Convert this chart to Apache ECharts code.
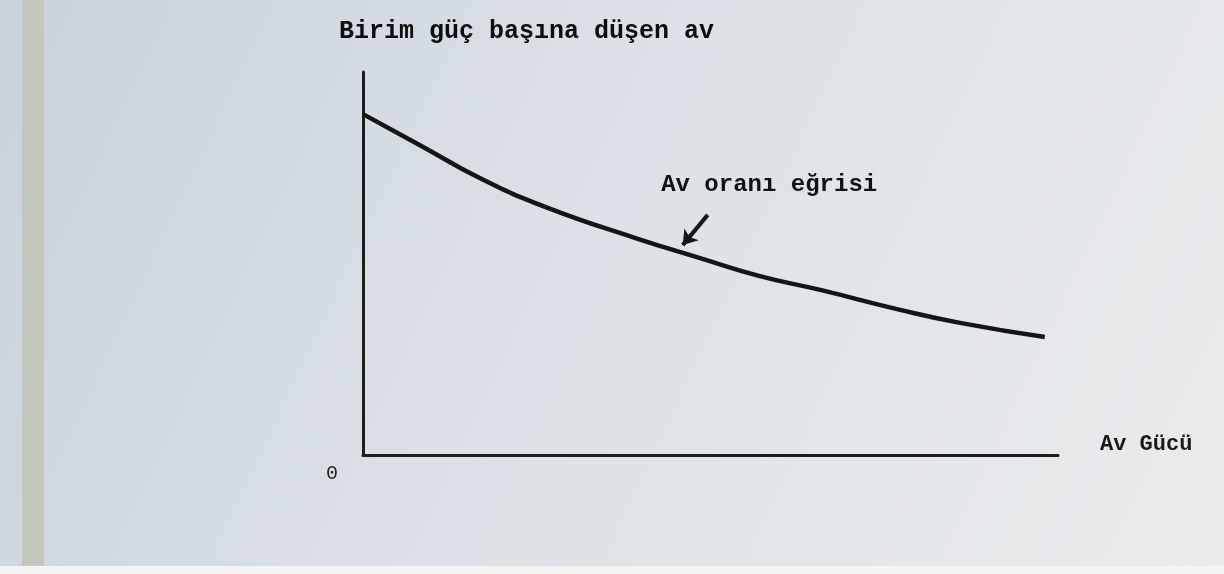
<!DOCTYPE html>
<html>
<head>
<meta charset="utf-8">
<title>Av oranı eğrisi</title>
<script src="https://cdn.jsdelivr.net/npm/echarts@6/dist/echarts.min.js"></script>
<style>
  html, body { margin: 0; padding: 0; }
  #chart { width: 1224px; height: 574px; }
</style>
</head>
<body>
<div id="chart"></div>
<script>
// Catch per unit of fishing effort against fishing effort (relative units)
const effort = [0, 8.2, 16.8, 26.2, 39.1, 48.5, 57.1, 65.8, 77.3, 85.9, 98.1];
const catchPerUnit = [89, 80.9, 72.3, 64.8, 56.7, 51.4, 46.7, 43.1, 37.9, 34.5, 30.8];

// Annotation arrow pointing at the curve (tail -> head, in data units)
const arrowTail = [49.6, 62.7];
const arrowHead = [46.0, 54.8];
const arrowLabel = [42.9, 70.5];

const curveName = 'Av oranı eğrisi';
const yTitle = 'Birim güç başına düşen av';
const xTitle = 'Av Gücü';
const originLabel = '0';

const typeFont = '"Liberation Mono", "DejaVu Sans Mono", monospace';

const chart = echarts.init(document.getElementById('chart'));

chart.setOption({
  backgroundColor: {
    type: 'linear', x: 0, y: 0, x2: 1, y2: 1,
    colorStops: [
      { offset: 0, color: '#c9d1da' },
      { offset: 0.45, color: '#dce1e7' },
      { offset: 1, color: '#eaebec' }
    ]
  },
  animation: false,
  graphic: [
    { type: 'rect', left: 22, top: 0, shape: { width: 22, height: 574 },
      style: { fill: '#c4c7bc' }, z: 0 },
    { type: 'rect', left: 0, top: 566, shape: { width: 1224, height: 8 },
      style: { fill: '#f4f4f4' }, z: 0 },
    { type: 'text', left: 326, top: 464,
      style: { text: originLabel, font: '20px ' + typeFont, fill: '#222' } }
  ],
  grid: { left: 363, right: 166, top: 72, bottom: 119 },
  xAxis: {
    type: 'value', min: 0, max: 100,
    name: xTitle, nameLocation: 'end', nameGap: 42,
    nameTextStyle: { fontFamily: typeFont, fontWeight: 'bold', fontSize: 22, color: '#1a1a1a',
      verticalAlign: 'bottom' },
    axisLine: { lineStyle: { color: '#1d1d1d', width: 3 } },
    axisTick: { show: false }, axisLabel: { show: false }, splitLine: { show: false }
  },
  yAxis: {
    type: 'value', min: 0, max: 100,
    name: yTitle, nameLocation: 'end', nameGap: 28,
    nameTextStyle: { fontFamily: typeFont, fontWeight: 'bold', fontSize: 25, color: '#0d0d0d',
      align: 'left', padding: [0, 0, 0, -24] },
    axisLine: { show: true, lineStyle: { color: '#1d1d1d', width: 3 } },
    axisTick: { show: false }, axisLabel: { show: false }, splitLine: { show: false }
  },
  series: [{
    name: curveName,
    type: 'line',
    smooth: true,
    symbol: 'none',
    data: effort.map((x, i) => [x, catchPerUnit[i]]),
    lineStyle: { color: '#151515', width: 4.5 },
    markLine: {
      silent: true,
      symbol: ['none', 'arrow'],
      symbolSize: 14,
      lineStyle: { color: '#151515', width: 4, type: 'solid' },
      label: { show: false },
      data: [[{ coord: arrowTail }, { coord: arrowHead }]]
    },
    markPoint: {
      silent: true,
      symbol: 'circle',
      symbolSize: 0,
      data: [{
        coord: arrowLabel,
        label: {
          show: true, formatter: curveName, position: 'right', distance: 0,
          fontFamily: typeFont, fontWeight: 'bold', fontSize: 24, color: '#111'
        }
      }]
    }
  }]
});
</script>
</body>
</html>
